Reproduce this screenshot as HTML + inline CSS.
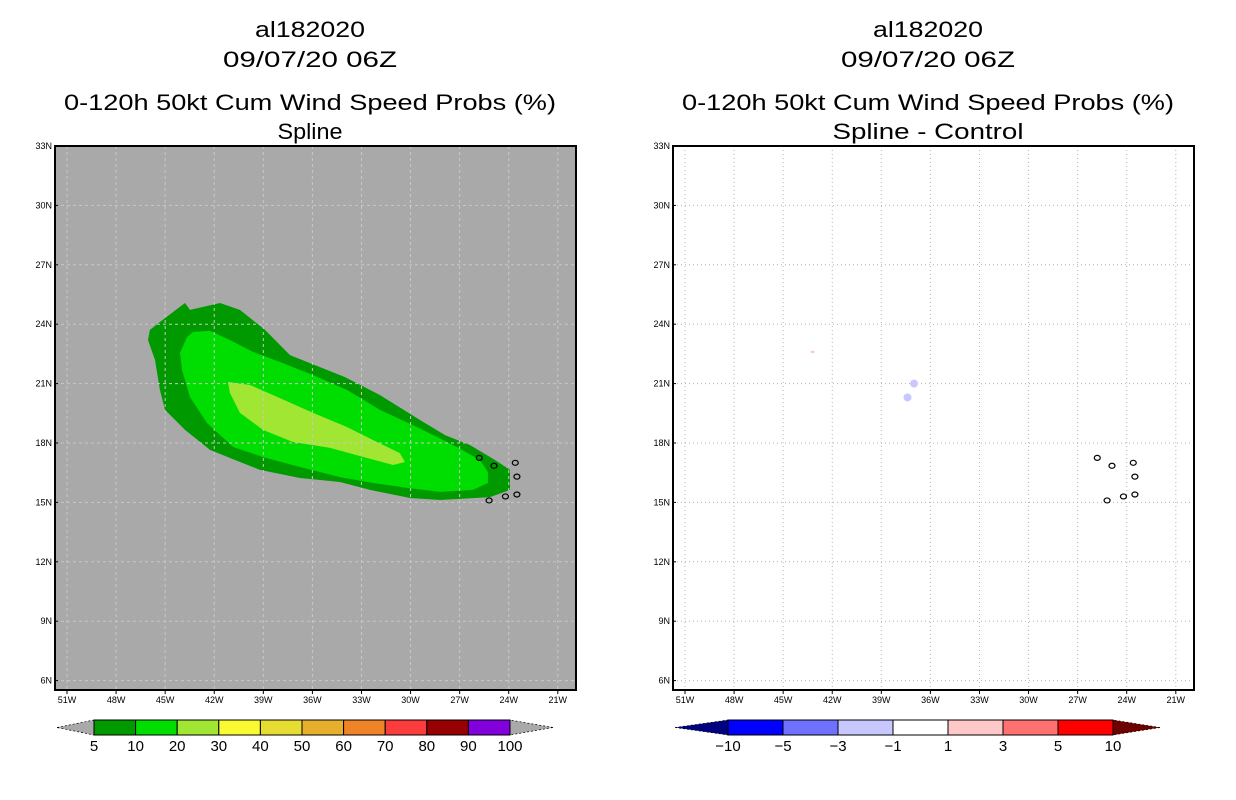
<!DOCTYPE html>
<html><head><meta charset="utf-8"><style>
body{margin:0;background:#fff}
svg{display:block}
text{font-family:"Liberation Sans",sans-serif;fill:#000}
</style></head><body>
<svg id="c" width="1236" height="800" viewBox="0 0 1236 800"></svg>
<script>
const latTicks=[33,30,27,24,21,18,15,12,9,6];
const lonTicks=[51,48,45,42,39,36,33,30,27,24,21];
const cbLeftLabels=["5","10","20","30","40","50","60","70","80","90","100"];
const cbLeftColors=["#009900","#00dd00","#a0e632","#fafa32","#e6dc32","#e6af2d","#f08228","#fa3c3c","#960000","#8200dc"];
const cbRightLabels=["-10","-5","-3","-1","1","3","5","10"];
const cbRightColors=["#0000ff","#7070ff","#c8c8ff","#ffffff","#ffc8c8","#ff7070","#ff0000"];
const c5=[[45.93,23.71],[45.32,24.11],[43.79,25.07],[43.48,24.72],[41.65,25.07],[40.43,24.72],[38.90,23.71],[37.37,22.44],[34.01,21.33],[31.87,20.42],[29.42,19.16],[27.89,18.40],[26.37,17.90],[24.84,17.14],[23.92,16.64],[23.92,15.63],[25.14,15.27],[28.20,15.12],[30.03,15.22],[32.48,15.63],[34.31,16.03],[36.76,16.23],[39.20,16.64],[40.73,17.14],[42.26,17.65],[43.79,18.66],[45.01,19.67],[45.32,20.68],[45.62,22.19],[46.05,23.20]];
const c10=[[43.30,23.61],[42.26,23.66],[41.04,23.20],[39.63,22.60],[37.98,22.09],[35.96,21.43],[33.89,20.68],[31.87,19.67],[29.61,18.81],[27.16,17.80],[25.76,17.14],[25.27,16.54],[25.27,15.98],[26.18,15.63],[28.20,15.53],[30.22,15.73],[32.30,15.98],[34.31,16.28],[36.76,16.79],[39.02,17.29],[40.85,17.80],[42.44,19.01],[43.48,20.32],[43.97,21.69],[44.09,22.55],[43.67,23.35]];
const c20=[[41.16,21.08],[39.81,20.93],[37.98,20.27],[35.96,19.52],[33.89,18.81],[32.30,18.15],[30.65,17.49],[30.34,17.04],[31.07,16.89],[32.66,17.24],[34.92,17.75],[37.19,18.05],[39.02,18.66],[40.43,19.52],[41.04,20.53]];
const islands=[[25.8,17.25],[24.9,16.85],[23.6,17.0],[23.5,16.3],[25.2,15.1],[24.2,15.3],[23.5,15.4]];
const diffPos=[[43.2,22.6]];
const diffNeg=[[37.0,21.0],[37.4,20.3]];

const S=document.getElementById('c');const NS='http://www.w3.org/2000/svg';
function mk(t,a,p){const e=document.createElementNS(NS,t);for(const k in a)e.setAttribute(k,a[k]);(p||S).appendChild(e);return e;}
function X(lon,off){return 67+off+(51-lon)*16.36;}
function Y(lat){return 146+(33-lat)*19.8;}
function poly(pts,off){return pts.map(p=>X(p[0],off).toFixed(1)+','+Y(p[1]).toFixed(1)).join(' ');}

function panel(off,bg,titles,widths,name){
  const g=mk('g',{});
  
  
  const cx=310+off;
  const ys=[37,67,110,139];
  titles.forEach((t,i)=>{const tx=mk('text',{x:cx,y:ys[i],'text-anchor':'middle','font-size':22,textLength:widths[i],lengthAdjust:'spacingAndGlyphs'},g);tx.textContent=t;
    
    });
  const bgr=mk('rect',{x:55+off,y:146,width:521,height:544,fill:bg},g);
  
  
  return g;
}
function grids(off,g,col,dash){
  lonTicks.forEach(l=>{const x=X(l,off);mk('line',{x1:x,x2:x,y1:146,y2:690,stroke:col,'stroke-dasharray':dash,'stroke-width':1},g);});
  latTicks.forEach(l=>{const y=Y(l);mk('line',{x1:55+off,x2:576+off,y1:y,y2:y,stroke:col,'stroke-dasharray':dash,'stroke-width':1},g);});
}
function axes(off,g){
  mk('rect',{x:55+off,y:146,width:521,height:544,fill:'none',stroke:'#000','stroke-width':2},g);
  latTicks.forEach(l=>{const t=mk('text',{x:52+off,y:Y(l)+3,'text-anchor':'end','font-size':9},g);t.textContent=l+'N';
    
    
    mk('line',{x1:55+off,x2:58+off,y1:Y(l),y2:Y(l),stroke:'#000'},g);});
  lonTicks.forEach(l=>{const t=mk('text',{x:X(l,off),y:703,'text-anchor':'middle','font-size':9},g);t.textContent=l+'W';
    
    
    mk('line',{x1:X(l,off),x2:X(l,off),y1:690,y2:694,stroke:'#000'},g);});
}
function isl(off,g){islands.forEach(p=>{const e=mk('ellipse',{cx:X(p[0],off),cy:Y(p[1]),rx:3,ry:2.5,fill:'none',stroke:'#000','stroke-width':1.2},g);
  
  });}

const L=panel(0,'#a9a9a9',["al182020","09/07/20 06Z","0-120h 50kt Cum Wind Speed Probs (%)","Spline"],[110,174,492,65],'left-panel');
[[c5,'#009900','contour-5'],[c10,'#00dd00','contour-10'],[c20,'#a0e632','contour-20']].forEach(d=>{
  const p=mk('polygon',{points:poly(d[0],0),fill:d[1]},L);
  
  });
grids(0,L,'#c8c8c8','3,3');
isl(0,L);axes(0,L);

const R=panel(618,'#fff',["al182020","09/07/20 06Z","0-120h 50kt Cum Wind Speed Probs (%)","Spline - Control"],[110,174,492,191],'right-panel');
grids(618,R,'#b4b4b4','1,3');
diffPos.forEach(p=>{const e=mk('rect',{x:X(p[0],618)-2,y:Y(p[1])-1,width:4,height:2,fill:'#ffc8c8'},R);
  
  });
diffNeg.forEach(p=>{const e=mk('ellipse',{cx:X(p[0],618),cy:Y(p[1]),rx:4,ry:4,fill:'#c8c8ff'},R);
  
  });
isl(618,R);axes(618,R);

function cbar(x0,x1,tipL,tipR,colors,labels,endL,endR,name){
  const g=mk('g',{});
  
  
  const y0=720,y1=735,ym=727.5;const w=(x1-x0)/colors.length;
  mk('polygon',{points:`${tipL},${ym} ${x0},${y0} ${x0},${y1}`,fill:endL,stroke:'#000','stroke-width':0.7,'stroke-dasharray':'2,2'},g);
  mk('polygon',{points:`${tipR},${ym} ${x1},${y0} ${x1},${y1}`,fill:endR,stroke:'#000','stroke-width':0.7,'stroke-dasharray':'2,2'},g);
  colors.forEach((c,i)=>{const r=mk('rect',{x:x0+i*w,y:y0,width:w,height:y1-y0,fill:c,stroke:'#000','stroke-width':1},g);
    
    });
  labels.forEach((t,i)=>{const tx=mk('text',{x:x0+i*w,y:751,'text-anchor':'middle','font-size':15},g);tx.textContent=t.replace('-','\u2212');
    
    });
}
cbar(94,510,57,553,cbLeftColors,cbLeftLabels,'#a9a9a9','#a9a9a9','left-colorbar');
cbar(728,1113,675,1160,cbRightColors,cbRightLabels,'#000080','#6e0000','right-colorbar');
</script>
</body></html>
